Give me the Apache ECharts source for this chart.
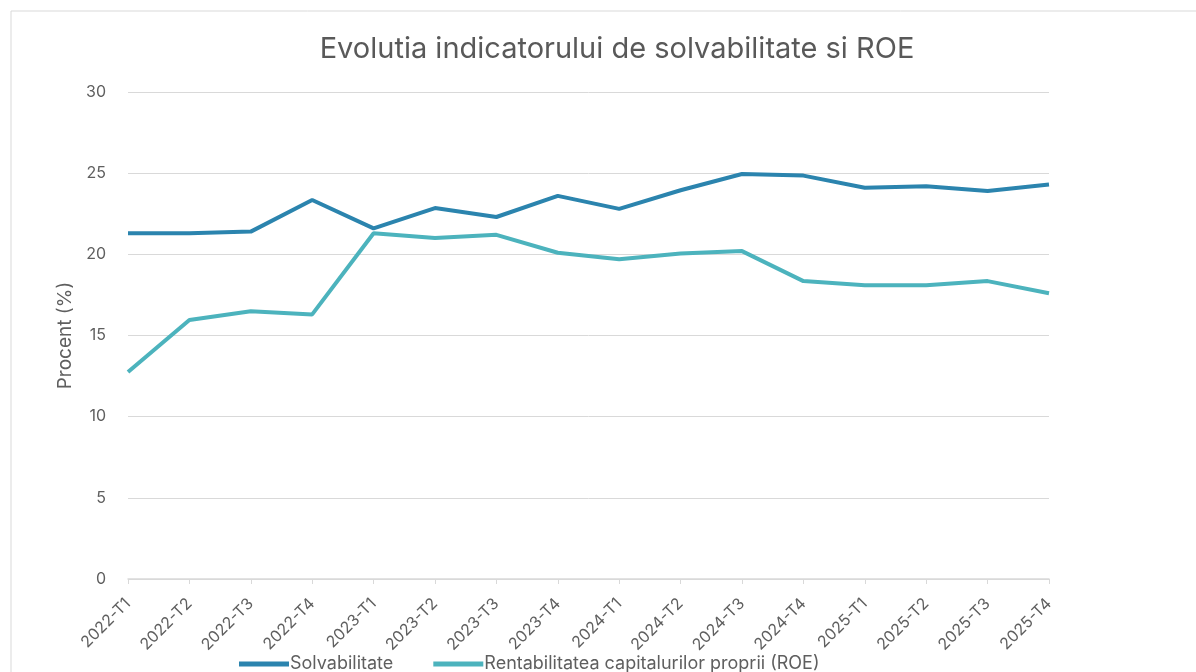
<!DOCTYPE html>
<html>
<head>
<meta charset="utf-8">
<script src="https://cdn.jsdelivr.net/npm/echarts@6/dist/echarts.min.js"></script>
<style>
html,body{margin:0;padding:0;background:#fff;}
#chart{width:1196px;height:672px;}
</style>
</head>
<body>
<div id="chart"></div>
<script>
const categories = ['2022-T1','2022-T2','2022-T3','2022-T4','2023-T1','2023-T2','2023-T3','2023-T4','2024-T1','2024-T2','2024-T3','2024-T4','2025-T1','2025-T2','2025-T3','2025-T4'];
const solvabilitate = [21.3, 21.3, 21.4, 23.35, 21.6, 22.85, 22.3, 23.6, 22.8, 23.95, 24.95, 24.85, 24.1, 24.2, 23.9, 24.3];
const roe = [12.75, 15.95, 16.5, 16.3, 21.3, 21.0, 21.2, 20.1, 19.7, 20.05, 20.2, 18.35, 18.1, 18.1, 18.35, 17.6];
const seriesNames = ['Solvabilitate', 'Rentabilitatea capitalurilor proprii (ROE)'];
const yTicks = { min: 0, max: 30, interval: 5 };

const chart = echarts.init(document.getElementById('chart'));
chart.setOption({
  animation: false,
  textStyle: { fontFamily: 'Inter, "Open Sans", sans-serif' },
  graphic: [{
    type: 'rect', silent: true, z: -1,
    shape: { x: 11, y: 11, width: 1300, height: 700 },
    style: { fill: 'none', stroke: '#d9d9d9', lineWidth: 1 }
  }],
  title: {
    text: 'Evolutia indicatorului de solvabilitate si ROE',
    left: 612, top: 30, textAlign: 'center',
    textStyle: { fontSize: 29, fontWeight: 'normal', color: '#595959', fontFamily: 'Inter, sans-serif' }
  },
  legend: {
    data: seriesNames,
    left: 234, top: 650,
    itemWidth: 50, itemHeight: 5, itemGap: 40,
    icon: 'rect',
    textStyle: { fontSize: 18, color: '#5f5f5f', padding: [0, 0, 0, -4] }
  },
  grid: { left: 128, right: 147, top: 92, bottom: 93, containLabel: false },
  xAxis: {
    type: 'category',
    data: categories,
    boundaryGap: false,
    axisLine: { lineStyle: { color: '#d9d9d9', width: 1.5 } },
    axisTick: { show: true, length: 5, lineStyle: { color: '#d9d9d9' } },
    axisLabel: { rotate: 45, fontSize: 16, color: '#5f5f5f', margin: 22, interval: 0 }
  },
  yAxis: {
    type: 'value',
    min: yTicks.min, max: yTicks.max, interval: yTicks.interval,
    name: 'Procent (%)',
    nameLocation: 'middle',
    nameGap: 52,
    nameTextStyle: { fontSize: 19, color: '#5f5f5f' },
    axisLine: { show: false },
    axisTick: { show: false },
    axisLabel: { fontSize: 16, color: '#5f5f5f', margin: 22 },
    splitLine: { lineStyle: { color: '#d9d9d9', width: 1 } }
  },
  series: [
    {
      name: seriesNames[0], type: 'line', data: solvabilitate,
      showSymbol: false, symbol: 'none',
      lineStyle: { color: '#2b84ae', width: 4 },
      itemStyle: { color: '#2b84ae' }
    },
    {
      name: seriesNames[1], type: 'line', data: roe,
      showSymbol: false, symbol: 'none',
      lineStyle: { color: '#4cb3bd', width: 4 },
      itemStyle: { color: '#4cb3bd' }
    }
  ]
});
</script>
</body>
</html>
